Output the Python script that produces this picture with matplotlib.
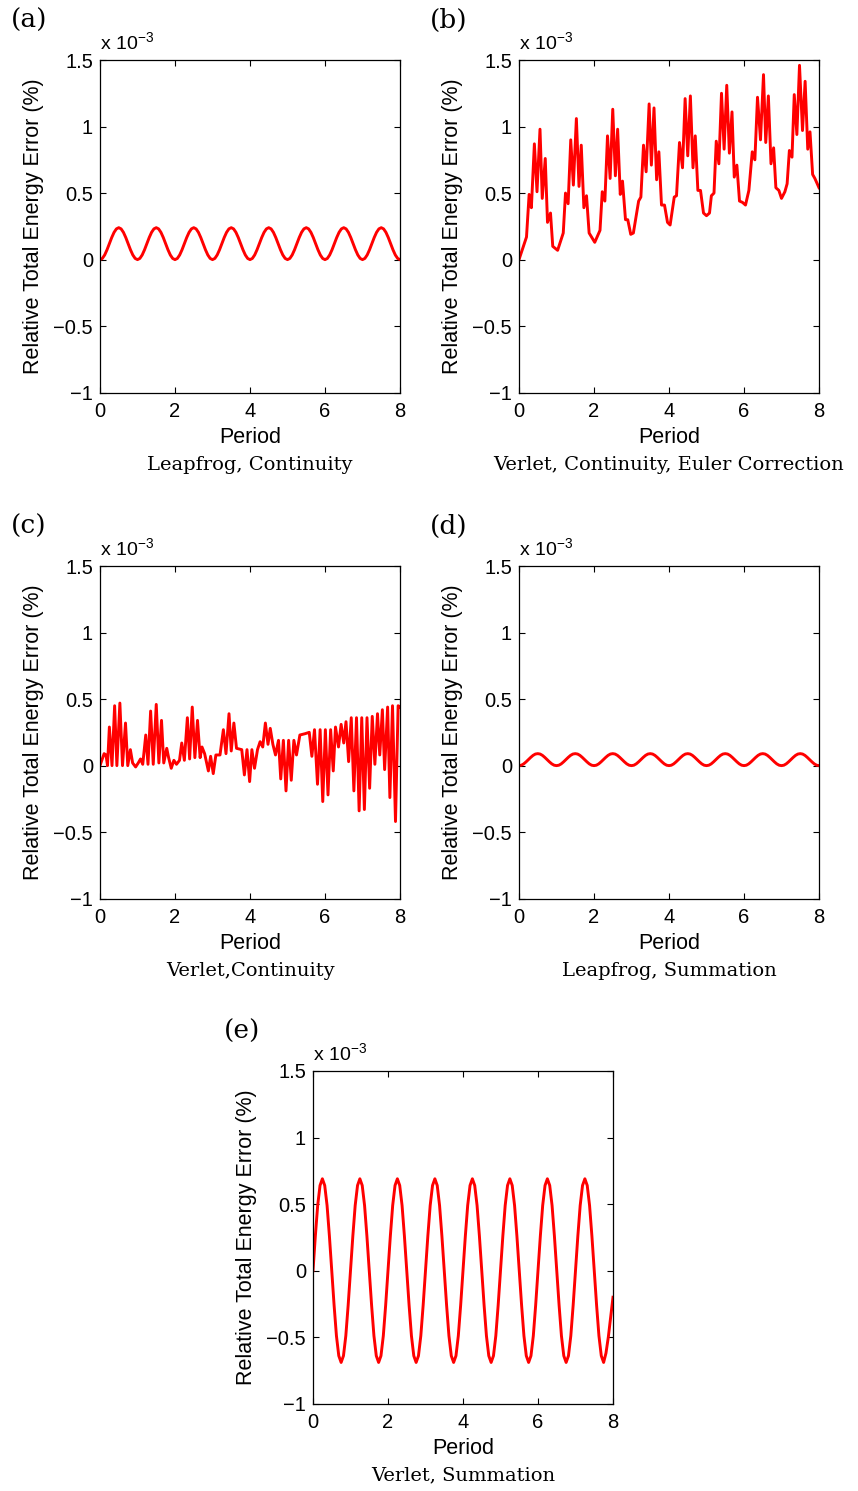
import numpy as np
import matplotlib
matplotlib.use("Agg")
import matplotlib.pyplot as plt

plt.rcParams['font.family'] = ['Liberation Sans', 'DejaVu Sans']
plt.rcParams['mathtext.fontset'] = 'custom'
plt.rcParams['mathtext.rm'] = 'Liberation Sans'
plt.rcParams['mathtext.it'] = 'Liberation Sans'

# smooth runs are read at 16 samples per period
t_smooth = np.linspace(0, 8, 129)

# values in units of 1e-3 (%)
energy_a = [
    0, 0.009, 0.035, 0.074, 0.12, 0.166, 0.205, 0.231, 0.24, 0.231, 0.205, 0.166, 0.12, 0.074, 0.035, 0.009,
    0, 0.009, 0.035, 0.074, 0.12, 0.166, 0.205, 0.231, 0.24, 0.231, 0.205, 0.166, 0.12, 0.074, 0.035, 0.009,
    0, 0.009, 0.035, 0.074, 0.12, 0.166, 0.205, 0.231, 0.24, 0.231, 0.205, 0.166, 0.12, 0.074, 0.035, 0.009,
    0, 0.009, 0.035, 0.074, 0.12, 0.166, 0.205, 0.231, 0.24, 0.231, 0.205, 0.166, 0.12, 0.074, 0.035, 0.009,
    0, 0.009, 0.035, 0.074, 0.12, 0.166, 0.205, 0.231, 0.24, 0.231, 0.205, 0.166, 0.12, 0.074, 0.035, 0.009,
    0, 0.009, 0.035, 0.074, 0.12, 0.166, 0.205, 0.231, 0.24, 0.231, 0.205, 0.166, 0.12, 0.074, 0.035, 0.009,
    0, 0.009, 0.035, 0.074, 0.12, 0.166, 0.205, 0.231, 0.24, 0.231, 0.205, 0.166, 0.12, 0.074, 0.035, 0.009,
    0, 0.009, 0.035, 0.074, 0.12, 0.166, 0.205, 0.231, 0.24, 0.231, 0.205, 0.166, 0.12, 0.074, 0.035, 0.009,
    0]

energy_d = [
    0, 0.003, 0.013, 0.028, 0.045, 0.062, 0.077, 0.087, 0.09, 0.087, 0.077, 0.062, 0.045, 0.028, 0.013, 0.003,
    0, 0.003, 0.013, 0.028, 0.045, 0.062, 0.077, 0.087, 0.09, 0.087, 0.077, 0.062, 0.045, 0.028, 0.013, 0.003,
    0, 0.003, 0.013, 0.028, 0.045, 0.062, 0.077, 0.087, 0.09, 0.087, 0.077, 0.062, 0.045, 0.028, 0.013, 0.003,
    0, 0.003, 0.013, 0.028, 0.045, 0.062, 0.077, 0.087, 0.09, 0.087, 0.077, 0.062, 0.045, 0.028, 0.013, 0.003,
    0, 0.003, 0.013, 0.028, 0.045, 0.062, 0.077, 0.087, 0.09, 0.087, 0.077, 0.062, 0.045, 0.028, 0.013, 0.003,
    0, 0.003, 0.013, 0.028, 0.045, 0.062, 0.077, 0.087, 0.09, 0.087, 0.077, 0.062, 0.045, 0.028, 0.013, 0.003,
    0, 0.003, 0.013, 0.028, 0.045, 0.062, 0.077, 0.087, 0.09, 0.087, 0.077, 0.062, 0.045, 0.028, 0.013, 0.003,
    0, 0.003, 0.013, 0.028, 0.045, 0.062, 0.077, 0.087, 0.09, 0.087, 0.077, 0.062, 0.045, 0.028, 0.013, 0.003,
    0]

energy_e = [
    0, 0.26, 0.49, 0.64, 0.69, 0.64, 0.49, 0.26, 0, -0.26, -0.49, -0.64, -0.69, -0.64, -0.49, -0.26,
    0, 0.26, 0.49, 0.64, 0.69, 0.64, 0.49, 0.26, 0, -0.26, -0.49, -0.64, -0.69, -0.64, -0.49, -0.26,
    0, 0.26, 0.49, 0.64, 0.69, 0.64, 0.49, 0.26, 0, -0.26, -0.49, -0.64, -0.69, -0.64, -0.49, -0.26,
    0, 0.26, 0.49, 0.64, 0.69, 0.64, 0.49, 0.26, 0, -0.26, -0.49, -0.64, -0.69, -0.64, -0.49, -0.26,
    0, 0.26, 0.49, 0.64, 0.69, 0.64, 0.49, 0.26, 0, -0.26, -0.49, -0.64, -0.69, -0.64, -0.49, -0.26,
    0, 0.26, 0.49, 0.64, 0.69, 0.64, 0.49, 0.26, 0, -0.26, -0.49, -0.64, -0.69, -0.64, -0.49, -0.26,
    0, 0.26, 0.49, 0.64, 0.69, 0.64, 0.49, 0.26, 0, -0.26, -0.49, -0.64, -0.69, -0.64, -0.49, -0.26,
    0, 0.26, 0.49, 0.64, 0.69, 0.64, 0.49, 0.26, 0, -0.26, -0.49, -0.64, -0.69, -0.62, -0.50, -0.35,
    -0.2]

# verlet + continuity + euler correction
t_b = [0.0, 0.2, 0.27, 0.33, 0.41, 0.48, 0.56, 0.62, 0.70, 0.76, 0.84, 0.90,
       1.03, 1.18, 1.24, 1.31, 1.38, 1.45, 1.53, 1.6, 1.66, 1.73, 1.80, 1.87,
       2.02, 2.16, 2.22, 2.29, 2.36, 2.43, 2.50, 2.57, 2.63, 2.70, 2.76, 2.84, 2.90, 2.98,
       3.05, 3.19, 3.25, 3.32, 3.39, 3.47, 3.53, 3.60, 3.67, 3.73, 3.80, 3.88, 3.96,
       4.03, 4.14, 4.20, 4.28, 4.36, 4.43, 4.50, 4.57, 4.64, 4.70, 4.77, 4.84, 4.92,
       5.0, 5.08, 5.13, 5.2, 5.26, 5.33, 5.40, 5.47, 5.54, 5.61, 5.68, 5.74, 5.81, 5.88, 5.96,
       6.04, 6.13, 6.22, 6.29, 6.36, 6.44, 6.52, 6.58, 6.65, 6.72, 6.79, 6.85, 6.93,
       7.0, 7.09, 7.15, 7.21, 7.28, 7.34, 7.41, 7.48, 7.56, 7.63, 7.70, 7.76, 7.83, 7.89, 8.0]
energy_b = [0, 0.17, 0.49, 0.39, 0.87, 0.51, 0.98, 0.46, 0.76, 0.28, 0.35, 0.10,
            0.07, 0.20, 0.50, 0.42, 0.90, 0.56, 1.06, 0.55, 0.86, 0.39, 0.48, 0.20,
            0.13, 0.22, 0.51, 0.44, 0.93, 0.61, 1.13, 0.63, 0.98, 0.49, 0.59, 0.30, 0.30, 0.19,
            0.20, 0.44, 0.47, 0.86, 0.66, 1.17, 0.71, 1.14, 0.60, 0.81, 0.41, 0.41, 0.28,
            0.26, 0.47, 0.48, 0.88, 0.69, 1.21, 0.78, 1.23, 0.69, 0.93, 0.52, 0.52, 0.35,
            0.33, 0.35, 0.48, 0.50, 0.89, 0.72, 1.25, 0.83, 1.31, 0.80, 1.11, 0.62, 0.71, 0.44, 0.43,
            0.41, 0.52, 0.81, 0.75, 1.22, 0.90, 1.39, 0.88, 1.23, 0.72, 0.84, 0.54, 0.52,
            0.46, 0.51, 0.57, 0.82, 0.77, 1.24, 0.94, 1.46, 0.97, 1.34, 0.83, 0.96, 0.64, 0.61, 0.54]

# verlet + continuity
t_c = [0, 0.11, 0.16, 0.2, 0.25, 0.32, 0.39, 0.45, 0.53, 0.60, 0.68, 0.74, 0.81, 0.87, 0.95,
       1.02, 1.08, 1.14, 1.22, 1.28, 1.35, 1.42, 1.5, 1.57, 1.64, 1.70, 1.78, 1.83, 1.90, 1.97,
       2.04, 2.12, 2.18, 2.25, 2.33, 2.39, 2.46, 2.53, 2.60, 2.67, 2.72, 2.79, 2.89, 2.95,
       3.02, 3.09, 3.2, 3.29, 3.36, 3.44, 3.50, 3.57, 3.64, 3.78, 3.85, 3.92, 3.99,
       4.05, 4.12, 4.20, 4.27, 4.34, 4.41, 4.48, 4.54, 4.61, 4.68, 4.76, 4.82, 4.89, 4.96,
       5.03, 5.10, 5.17, 5.24, 5.33, 5.47, 5.58, 5.65, 5.72, 5.80, 5.87, 5.94,
       6.01, 6.08, 6.15, 6.22, 6.28, 6.36, 6.43, 6.50, 6.56, 6.63, 6.70, 6.77, 6.84, 6.91, 6.98,
       7.05, 7.12, 7.19, 7.26, 7.33, 7.40, 7.46, 7.53, 7.59, 7.67, 7.73, 7.80, 7.88, 7.95, 8.0]
energy_c = [0, 0.09, 0.08, 0, 0.29, 0, 0.45, 0, 0.47, 0, 0.32, 0, 0.12, 0.02, -0.01,
            0.02, 0.05, 0.01, 0.23, 0.01, 0.41, 0.01, 0.46, 0.02, 0.34, 0.02, 0.13, 0.06, -0.02, 0.04,
            0.01, 0.04, 0.17, 0.04, 0.36, 0.05, 0.44, 0.06, 0.34, 0.06, 0.14, 0.09, -0.04, 0.07,
            -0.06, 0.08, 0.08, 0.27, 0.09, 0.39, 0.11, 0.32, 0.13, 0.12, -0.07, 0.12, -0.12,
            0.12, -0.02, 0.12, 0.18, 0.14, 0.32, 0.16, 0.28, 0.16, 0.08, 0.19, -0.10, 0.19, -0.19,
            0.19, -0.11, 0.19, 0.08, 0.23, 0.24, 0.25, 0.07, 0.27, -0.14, 0.27, -0.27,
            0.27, -0.22, 0.27, -0.04, 0.29, 0.14, 0.31, 0.17, 0.33, 0.03, 0.36, -0.19, 0.36, -0.34, 0.36,
            -0.33, 0.36, -0.17, 0.37, 0.01, 0.39, 0.08, 0.42, -0.03, 0.44, -0.24, 0.45, -0.42, 0.45, 0.44]

assert len(t_b) == len(energy_b)
assert len(t_c) == len(energy_c)

letters = ['(a)', '(b)', '(c)', '(d)', '(e)']
subtitles = ['Leapfrog, Continuity', 'Verlet, Continuity, Euler Correction',
             'Verlet,Continuity', 'Leapfrog, Summation', 'Verlet, Summation']
series = [(t_smooth, energy_a), (t_b, energy_b), (t_c, energy_c),
          (t_smooth, energy_d), (t_smooth, energy_e)]

W, H = 858, 1491
fig = plt.figure(figsize=(W / 100, H / 100), dpi=100)

# pixel placement of each axes box: left, top
boxes = [(100, 60), (519, 60), (100, 566), (519, 566), (313, 1071)]
bw, bh = 300, 332.7

for (left, top), letter, sub, (t, e) in zip(boxes, letters, subtitles, series):
    ax = fig.add_axes([left / W, 1 - (top + bh) / H, bw / W, bh / H])
    ax.plot(t, e, color='#ff0000', lw=2.1)
    ax.set_xlim(0, 8)
    ax.set_ylim(-1, 1.5)
    ax.set_xticks([0, 2, 4, 6, 8])
    ax.set_yticks([-1, -0.5, 0, 0.5, 1, 1.5])
    ax.set_yticklabels(['\u22121', '\u22120.5', '0', '0.5', '1', '1.5'])
    ax.tick_params(direction='in', top=True, right=True, length=4, width=0.8,
                   labelsize=14.5)
    ax.tick_params(axis='x', pad=7)
    ax.tick_params(axis='y', pad=5)
    for s in ax.spines.values():
        s.set_linewidth(0.9)
    ax.set_xlabel('Period', fontsize=15.5, labelpad=4)
    ax.set_ylabel('Relative Total Energy Error (%)', fontsize=15.5, labelpad=7)
    ax.text(0, 1.02, r'x 10$^{-3}$', transform=ax.transAxes,
            ha='left', va='bottom', fontsize=14)
    cx = (left + bw / 2) / W
    fig.text(cx, 1 - (top + bh + 72) / H, sub, ha='center', va='center',
             family='DejaVu Serif', fontsize=14)
    fig.text((left - 89) / W, 1 - (top - 40) / H, letter, ha='left', va='center',
             family='DejaVu Serif', fontsize=19)

fig.savefig('out.png', dpi=100)
